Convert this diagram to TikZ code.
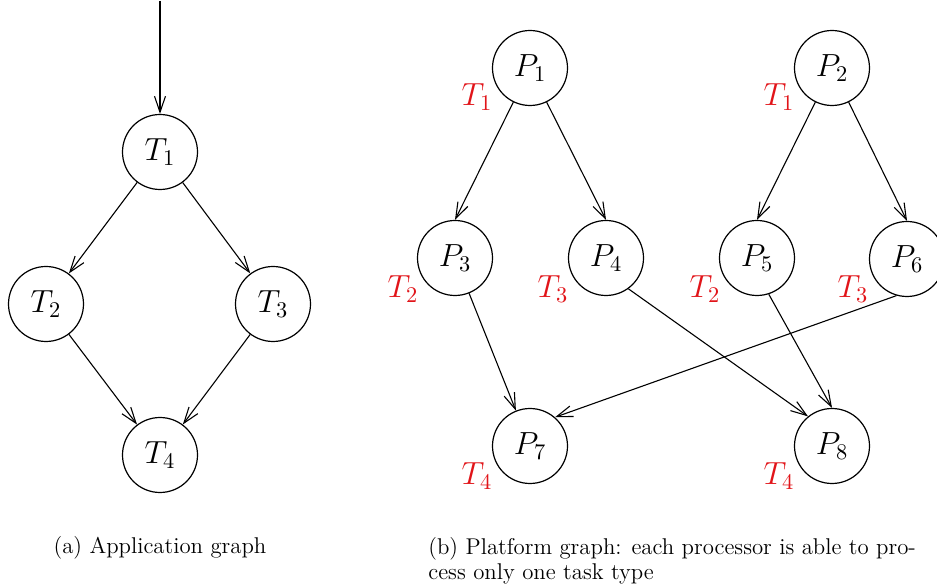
\RequirePackage{fix-cm}
\documentclass[tikz,border=0pt]{standalone}
\usetikzlibrary{arrows.meta}
\definecolor{labred}{RGB}{225,20,25}
\begin{document}
\begin{tikzpicture}[x=0.5pt,y=-0.5pt,
  circ/.style={circle, draw, line width=0.6pt, minimum size=37.5pt, inner sep=0pt, font=\fontsize{16}{19}\selectfont},
  tlab/.style={text=labred, inner sep=0pt, font=\fontsize{16}{19}\selectfont},
  edge/.style={-{Straight Barb[length=8pt,width=5.5pt]}, line width=0.55pt},
  captxt/.style={inner sep=0pt, font=\fontsize{11.4}{12.6}\selectfont}]
\useasboundingbox (0,0) rectangle (937,587);
% application graph
\node[circ] (T1) at (160,152) {$T_1$};
\node[circ] (T2) at (46,304) {$T_2$};
\node[circ] (T3) at (273,304) {$T_3$};
\node[circ] (T4) at (160,455) {$T_4$};
\coordinate (in) at (160,1);
\draw[edge] (in) -- (T1);
\draw[edge] (T1) -- (T2);
\draw[edge] (T1) -- (T3);
\draw[edge] (T2) -- (T4);
\draw[edge] (T3) -- (T4);
% platform graph
\node[circ] (P1) at (530,68) {$P_1$};
\node[circ] (P2) at (832,68) {$P_2$};
\node[circ] (P3) at (455,258) {$P_3$};
\node[circ] (P4) at (606,258) {$P_4$};
\node[circ] (P5) at (757,258) {$P_5$};
\node[circ] (P6) at (907,259) {$P_6$};
\node[circ] (P7) at (530,446) {$P_7$};
\node[circ] (P8) at (832,446) {$P_8$};
\draw[edge] (P1.-116) -- (P3.north);
\draw[edge] (P1.-64) -- (P4.north);
\draw[edge] (P2.-116) -- (P5.north);
\draw[edge] (P2.-64) -- (P6.north);
\draw[edge] (P3) -- (P7);
\draw[edge] (P4.-54) -- (P8.129);
\draw[edge] (P5.-72) -- (P8.north);
\draw[edge] (P6.-106) -- (P7.49);
% red labels
\node[tlab] (l1) at (477,97) {$T_1$};
\node[tlab] (l2) at (779,97) {$T_1$};
\node[tlab] (l3) at (403,289) {$T_2$};
\node[tlab] (l4) at (553,289) {$T_3$};
\node[tlab] (l5) at (705,289) {$T_2$};
\node[tlab] (l6) at (853,289) {$T_3$};
\node[tlab] (l7) at (477,476) {$T_4$};
\node[tlab] (l8) at (779,476) {$T_4$};
% captions
\node[captxt] (ca) at (160,548) {(a) Application graph};
\node[captxt, anchor=north west, align=left] (cb) at (428,537) {(b) Platform graph: each processor is able to pro-\\cess only one task type};
\end{tikzpicture}
\end{document}
